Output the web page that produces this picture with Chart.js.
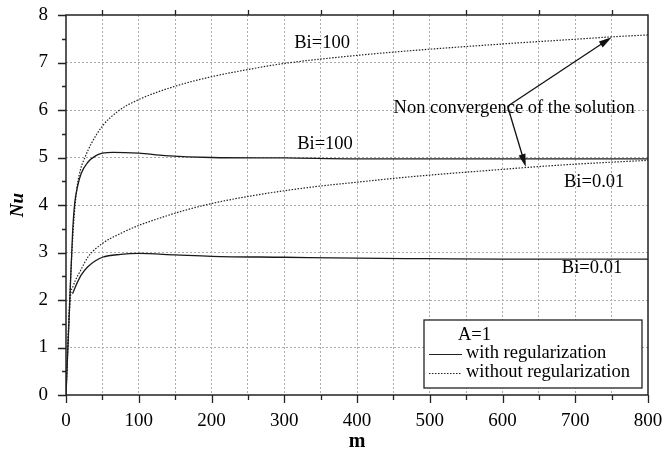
<!DOCTYPE html>
<html>
<head>
<meta charset="utf-8">
<script src="https://cdn.jsdelivr.net/npm/chart.js@4.4.1/dist/chart.umd.min.js"></script>
<style>
  html, body { margin: 0; padding: 0; background: #fff; }
  #wrap { width: 663px; height: 456px; }
</style>
</head>
<body>
<div id="wrap"><canvas id="nuChart" width="663" height="456"></canvas></div>
<script>
// values (A=1)
const mRegBi100 = [0, 5, 9, 12, 16, 21, 30, 40, 50, 65, 100, 136, 200, 300, 400, 500, 600, 800];
const nuRegBi100 = [0, 1.9, 3.4, 4.04, 4.4, 4.67, 4.9, 5.03, 5.09, 5.11, 5.09, 5.04, 5.0, 4.99, 4.97, 4.97, 4.97, 4.97];

const mNoRegBi100 = [0, 5, 10, 15, 20, 26, 35, 50, 72, 100, 150, 200, 253, 300, 400, 459, 500, 600, 700, 750, 800];
const nuNoRegBi100 = [0, 2.0, 3.5, 4.35, 4.75, 5.0, 5.3, 5.66, 5.98, 6.22, 6.5, 6.7, 6.86, 6.98, 7.15, 7.23, 7.28, 7.39, 7.49, 7.54, 7.58];

const mRegBi001 = [9, 15, 21, 30, 40, 50, 75, 100, 150, 200, 300, 400, 500, 600, 800];
const nuRegBi001 = [2.13, 2.35, 2.53, 2.7, 2.82, 2.9, 2.96, 2.98, 2.95, 2.92, 2.9, 2.88, 2.87, 2.86, 2.86];

const mNoRegBi001 = [0, 3, 6, 10, 20, 30, 50, 75, 100, 136, 157, 200, 250, 300, 350, 400, 450, 500, 600, 633, 700, 800];
const nuNoRegBi001 = [0, 1.2, 2.05, 2.3, 2.62, 2.9, 3.19, 3.4, 3.57, 3.76, 3.86, 4.03, 4.18, 4.3, 4.4, 4.48, 4.56, 4.63, 4.75, 4.79, 4.86, 4.94];

// text notes placed in data units
const noteText = ['Bi=100', 'Bi=100', 'Non convergence of the solution', 'Bi=0.01', 'Bi=0.01'];
const noteM = [352, 356, 616, 726, 723];
const noteNu = [7.41, 5.28, 6.04, 4.48, 2.67];

// arrows: common start, two tips
const arrowFrom = [607, 6.08];
const arrowTips = [[750, 7.53], [632, 4.8]];

const legendTitle = 'A=1';
const legendLabels = ['with regularization', 'without regularization'];

const serif = "'Liberation Serif', 'Times New Roman', serif";

function pts(ms, nus) {
  return ms.map((m, i) => ({ x: m, y: nus[i] }));
}

function solid(ms, nus) {
  return {
    data: pts(ms, nus),
    borderColor: '#1a1a1a',
    borderWidth: 1.3,
    pointRadius: 0,
    cubicInterpolationMode: 'monotone',
    fill: false
  };
}

function dotted(ms, nus) {
  return {
    data: pts(ms, nus),
    borderColor: '#222',
    borderWidth: 1.2,
    borderDash: [1.5, 1.5],
    pointRadius: 0,
    cubicInterpolationMode: 'monotone',
    fill: false
  };
}

function arrow(ctx, x0, y0, x1, y1) {
  const a = Math.atan2(y1 - y0, x1 - x0);
  const len = 13, half = 3.5;
  ctx.beginPath();
  ctx.moveTo(x0, y0);
  ctx.lineTo(x1 - Math.cos(a) * len * 0.8, y1 - Math.sin(a) * len * 0.8);
  ctx.stroke();
  ctx.beginPath();
  ctx.moveTo(x1, y1);
  ctx.lineTo(x1 - Math.cos(a) * len - Math.sin(a) * half, y1 - Math.sin(a) * len + Math.cos(a) * half);
  ctx.lineTo(x1 - Math.cos(a) * len + Math.sin(a) * half, y1 - Math.sin(a) * len - Math.cos(a) * half);
  ctx.closePath();
  ctx.fill();
}

// keep the plot box where the figure has it; labels may overhang
function noOverhang(scale) {
  scale.paddingTop = 0;
  scale.paddingBottom = 0;
  scale.paddingLeft = 0;
  scale.paddingRight = 0;
}

const decorations = {
  id: 'decorations',
  afterDraw(chart) {
    const { ctx, chartArea: area, scales: { x, y } } = chart;
    ctx.save();

    // frame
    ctx.strokeStyle = '#222';
    ctx.lineWidth = 1.5;
    ctx.strokeRect(area.left, area.top, area.right - area.left, area.bottom - area.top);

    // tick marks
    ctx.lineWidth = 1.3;
    ctx.beginPath();
    for (let v = 0; v <= 8; v += 0.5) {
      const py = Math.round(y.getPixelForValue(v)) + 0.5;
      const len = Number.isInteger(v) ? 8 : 4;
      ctx.moveTo(area.left - len, py);
      ctx.lineTo(area.left, py);
    }
    for (let m = 0; m <= 800; m += 50) {
      const px = Math.round(x.getPixelForValue(m)) + 0.5;
      const len = m % 100 === 0 ? 8 : 5;
      ctx.moveTo(px, area.bottom);
      ctx.lineTo(px, area.bottom + len);
      if (m % 100 === 50) {
        ctx.moveTo(px, area.top);
        ctx.lineTo(px, area.top - 5);
      }
    }
    ctx.stroke();

    // notes
    ctx.fillStyle = '#000';
    ctx.font = '18.5px ' + serif;
    ctx.textAlign = 'center';
    ctx.textBaseline = 'middle';
    noteText.forEach((t, i) => {
      ctx.fillText(t, x.getPixelForValue(noteM[i]), y.getPixelForValue(noteNu[i]));
    });

    // arrows
    ctx.strokeStyle = '#111';
    ctx.fillStyle = '#111';
    ctx.lineWidth = 1.3;
    const fx = x.getPixelForValue(arrowFrom[0]);
    const fy = y.getPixelForValue(arrowFrom[1]);
    arrowTips.forEach(t => {
      arrow(ctx, fx, fy, x.getPixelForValue(t[0]), y.getPixelForValue(t[1]));
    });

    // legend box
    const bx0 = area.right - 224, bx1 = area.right - 6;
    const by0 = area.bottom - 75, by1 = area.bottom - 7;
    ctx.fillStyle = '#fff';
    ctx.fillRect(bx0, by0, bx1 - bx0, by1 - by0);
    ctx.strokeStyle = '#222';
    ctx.lineWidth = 1.3;
    ctx.strokeRect(bx0, by0, bx1 - bx0, by1 - by0);

    ctx.fillStyle = '#000';
    ctx.textAlign = 'left';
    ctx.fillText(legendTitle, bx0 + 34, by0 + 15);
    const rows = [by0 + 33, by0 + 52];
    legendLabels.forEach((t, i) => {
      ctx.fillText(t, bx0 + 42, rows[i]);
      ctx.beginPath();
      ctx.setLineDash(i === 0 ? [] : [1.5, 1.5]);
      ctx.lineWidth = i === 0 ? 1.2 : 1;
      ctx.moveTo(bx0 + 5, rows[i] + 1.5);
      ctx.lineTo(bx0 + 38, rows[i] + 1.5);
      ctx.stroke();
    });
    ctx.setLineDash([]);

    ctx.restore();
  }
};

new Chart(document.getElementById('nuChart'), {
  type: 'line',
  data: {
    datasets: [
      solid(mRegBi100, nuRegBi100),
      dotted(mNoRegBi100, nuNoRegBi100),
      solid(mRegBi001, nuRegBi001),
      dotted(mNoRegBi001, nuNoRegBi001)
    ]
  },
  options: {
    responsive: false,
    animation: false,
    devicePixelRatio: 1,
    layout: { padding: { left: 0, top: 15, right: 15, bottom: 0 } },
    plugins: {
      legend: { display: false },
      tooltip: { enabled: false }
    },
    scales: {
      x: {
        type: 'linear',
        min: 0,
        max: 800,
        afterFit: scale => { scale.height = 61; noOverhang(scale); },
        border: { display: false, dash: [2, 2] },
        grid: {
          drawTicks: false,
          color: ctx => (ctx.tick && ctx.tick.value > 0 && ctx.tick.value < 800) ? '#aaaaaa' : 'transparent',
          lineWidth: 1
        },
        ticks: {
          stepSize: 50,
          autoSkip: false,
          maxRotation: 0,
          padding: 15,
          color: '#000',
          font: { family: serif, size: 19 },
          callback: v => (v % 100 === 0 ? v : '')
        },
        title: {
          display: true,
          text: 'm',
          color: '#000',
          font: { family: serif, size: 20, weight: 'bold' },
          padding: { top: 0, bottom: 2 }
        }
      },
      y: {
        min: 0,
        max: 8,
        afterFit: scale => { scale.width = 66; noOverhang(scale); },
        border: { display: false, dash: [2, 2] },
        grid: {
          drawTicks: false,
          color: ctx => (ctx.tick && Number.isInteger(ctx.tick.value) && ctx.tick.value > 0 && ctx.tick.value < 8) ? '#aaaaaa' : 'transparent',
          lineWidth: 1
        },
        ticks: {
          stepSize: 0.5,
          autoSkip: false,
          padding: 18,
          color: '#000',
          font: { family: serif, size: 19 },
          callback: v => (Number.isInteger(v) ? v : '')
        },
        title: {
          display: true,
          text: 'Nu',
          color: '#000',
          font: { family: serif, size: 19, weight: 'bold', style: 'italic' },
          padding: { top: 7, bottom: 0 }
        }
      }
    }
  },
  plugins: [decorations]
});
</script>
</body>
</html>
